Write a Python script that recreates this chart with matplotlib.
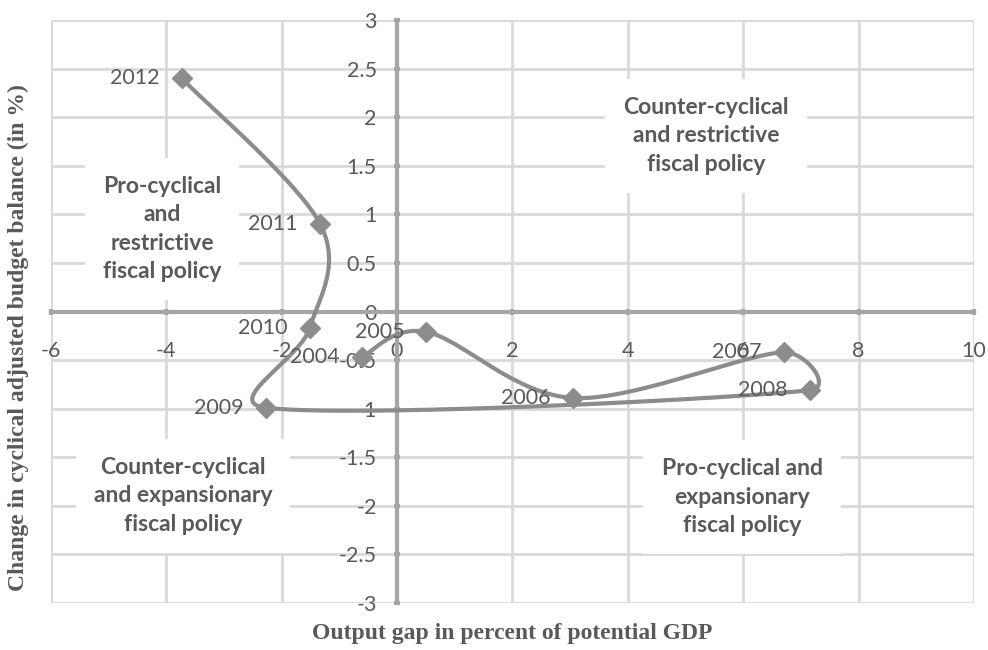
import numpy as np
import matplotlib.pyplot as plt

plt.rcParams['font.family'] = ['Lato', 'DejaVu Sans']
plt.rcParams['axes.unicode_minus'] = False

# data
years = ['2004', '2005', '2006', '2007', '2008', '2009', '2010', '2011', '2012']
output_gap = [-0.61, 0.51, 3.05, 6.70, 7.16, -2.27, -1.51, -1.33, -3.73]
balance_change = [-0.47, -0.21, -0.89, -0.42, -0.81, -0.99, -0.17, 0.90, 2.40]

x_ticks = [-6, -4, -2, 0, 2, 4, 6, 8, 10]
y_ticks = [-3, -2.5, -2, -1.5, -1, -0.5, 0, 0.5, 1, 1.5, 2, 2.5, 3]

zone_texts = ['Counter-cyclical\nand restrictive\nfiscal policy',
              'Pro-cyclical\nand\nrestrictive\nfiscal policy',
              'Counter-cyclical\nand expansionary\nfiscal policy',
              'Pro-cyclical and\nexpansionary\nfiscal policy']
zone_pos = [(706, 136), (162, 229), (183, 496), (742, 497)]  # pixel centres

W, H = 988, 650
txt_col = '#595959'
line_col = '#8c8c8c'

fig = plt.figure(figsize=(W / 100, H / 100), dpi=100)
ax = fig.add_axes([50.7 / W, 1 - 603 / H, (974 - 50.7) / W, (603 - 20) / H])

ax.set_xlim(-6, 10)
ax.set_ylim(-3, 3)
ax.set_xticks(x_ticks)
ax.set_yticks(y_ticks)
ax.set_xticklabels([f'{v:g}' for v in x_ticks])
ax.set_yticklabels([f'{v:g}' for v in y_ticks])

ax.set_axisbelow(True)
ax.grid(color='#d9d9d9', linewidth=2)
for gl in ax.get_xgridlines() + ax.get_ygridlines():
    gl.set_clip_on(False)

for s in ['top', 'right']:
    ax.spines[s].set_visible(False)
for s in ['left', 'bottom']:
    ax.spines[s].set_position(('data', 0))
    ax.spines[s].set_color('#a6a6a6')
    ax.spines[s].set_linewidth(3)
    ax.spines[s].set_zorder(2)

ax.tick_params(axis='x', direction='inout', length=5, width=3, color='#a6a6a6',
               labelsize=15.5, labelcolor=txt_col, pad=19)
ax.tick_params(axis='y', direction='inout', length=5, width=3, color='#a6a6a6',
               labelsize=15.5, labelcolor=txt_col, pad=12)

# smoothed line: bezier through the points in pixel space (tension 1/6),
# control handles clamped to half the segment length like Excel does
pts = ax.transData.transform(np.column_stack([output_gap, balance_change]))
P = np.vstack([pts[0], pts, pts[-1]])


def clamp(v, maxlen):
    n = np.hypot(*v)
    return v if n <= maxlen else v * maxlen / n


t = np.linspace(0, 1, 60)[:, None]
curve = []
for i in range(1, len(P) - 2):
    p0, p1 = P[i], P[i + 1]
    L = np.hypot(*(p1 - p0))
    c1 = p0 + clamp((P[i + 1] - P[i - 1]) / 6, L / 2)
    c2 = p1 - clamp((P[i + 2] - P[i]) / 6, L / 2)
    seg = ((1 - t) ** 3) * p0 + 3 * ((1 - t) ** 2) * t * c1 + 3 * (1 - t) * t ** 2 * c2 + t ** 3 * p1
    curve.append(seg)
curve = ax.transData.inverted().transform(np.vstack(curve))
ax.plot(curve[:, 0], curve[:, 1], color=line_col, linewidth=3, zorder=4,
        solid_capstyle='round')
ax.plot(output_gap, balance_change, linestyle='none', marker='D', markersize=10,
        color=line_col, zorder=5)

for yr, xv, yv in zip(years, output_gap, balance_change):
    ax.annotate(yr, (xv, yv), xytext=(-16, 0), textcoords='offset points',
                ha='right', va='center', fontsize=15.5, color=txt_col, zorder=6)

for txt, (px, py) in zip(zone_texts, zone_pos):
    fig.text(px / W, 1 - py / H, txt, ha='center', va='center', fontsize=16.5,
             fontweight='bold', color=txt_col, linespacing=1.43, zorder=3,
             bbox=dict(facecolor='white', edgecolor='none', pad=13))

fig.text(512 / W, 1 - 634 / H, 'Output gap in percent of potential GDP',
         ha='center', va='center', fontsize=17, fontweight='bold',
         family='Liberation Serif', color=txt_col)
fig.text(18 / W, 1 - 338 / H, 'Change in cyclical adjusted budget balance (in %)',
         ha='center', va='center', rotation=90, fontsize=17, fontweight='bold',
         family='Liberation Serif', color=txt_col)

fig.savefig('out.png', dpi=100)
